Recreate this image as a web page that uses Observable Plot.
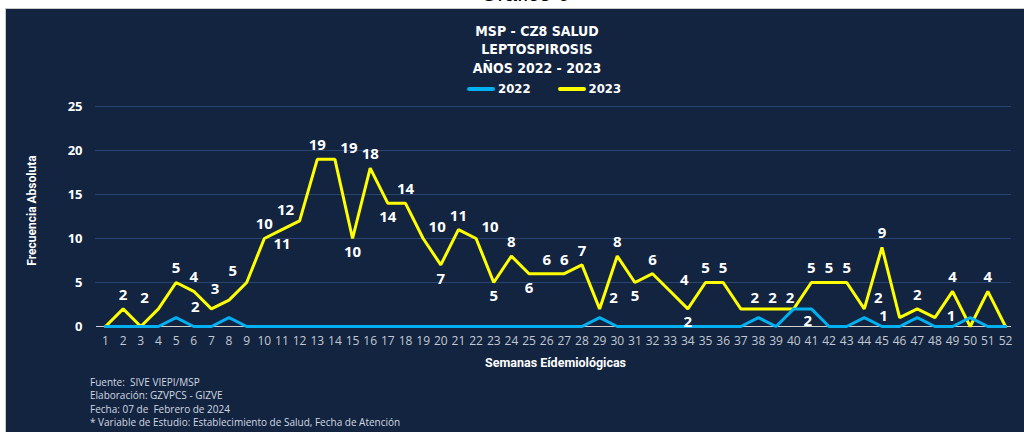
<!DOCTYPE html>
<html><head><meta charset="utf-8">
<script src="https://cdn.jsdelivr.net/npm/d3@7"></script>
<script src="https://cdn.jsdelivr.net/npm/@observablehq/plot@0.6"></script>
<style>
body{margin:0;background:#fff;width:1024px;height:432px;overflow:hidden;position:relative;font-family:"Open Sans",sans-serif}
#top{position:absolute;left:525px;top:-19px;transform:translateX(-50%);font:22px "Liberation Sans",Arial,sans-serif;color:#000;white-space:nowrap}
#panel{position:absolute;left:5px;top:8px;width:1019px;height:424px;background:#122440;border-left:1px solid #c9c9c9;border-top:1px solid #c9c9c9}
.t{position:absolute;left:537px;transform:translateX(-50%);color:#fff;font-weight:bold;font-size:14px;font-family:"Liberation Sans Narrow","DejaVu Sans Condensed","Roboto",sans-serif;white-space:nowrap}
#legend{position:absolute;top:81px;left:467px;display:flex;align-items:center;color:#fff;font-weight:bold;font-size:13px;font-family:"Liberation Sans Narrow","DejaVu Sans Condensed","Roboto",sans-serif}
.sw{display:inline-block;width:28px;height:4px;border-radius:2px;margin-right:3px}
#chart{position:absolute;left:0;top:90px}
#foot{position:absolute;left:90px;top:376px;color:#d3d8e0;font-size:10px;line-height:13.3px;font-family:"Open Sans",sans-serif}
</style>
</head><body>
<div id="top">Gráfico 6</div>
<div id="panel"></div>
<div class="t" style="top:23px">MSP - CZ8 SALUD</div>
<div class="t" style="top:41px">LEPTOSPIROSIS</div>
<div class="t" style="top:60px">AÑOS 2022 - 2023</div>
<div id="legend"><span class="sw" style="background:#00b0f0"></span><span>2022</span><span style="width:27px"></span><span class="sw" style="background:#ffff00"></span><span>2023</span></div>
<div id="chart"></div>
<div id="foot">
<div>Fuente:&nbsp; SIVE VIEPI/MSP</div>
<div>Elaboración: GZVPCS - GIZVE</div>
<div>Fecha: 07 de&nbsp; Febrero de 2024</div>
<div>* Variable de Estudio: Establecimiento de Salud, Fecha de Atención</div>
</div>
<script>
const weeks = [1,2,3,4,5,6,7,8,9,10,11,12,13,14,15,16,17,18,19,20,21,22,23,24,25,26,27,28,29,30,31,32,33,34,35,36,37,38,39,40,41,42,43,44,45,46,47,48,49,50,51,52];
const cases2022 = [0,0,0,0,1,0,0,1,0,0,0,0,0,0,0,0,0,0,0,0,0,0,0,0,0,0,0,0,1,0,0,0,0,0,0,0,0,1,0,2,2,0,0,1,0,0,1,0,0,1,0,0];
const cases2023 = [0,2,0,2,5,4,2,3,5,10,11,12,19,19,10,18,14,14,10,7,11,10,5,8,6,6,6,7,2,8,5,6,4,2,5,5,2,2,2,2,5,5,5,2,9,1,2,1,4,0,4,0];
const yTicks = [0,5,10,15,20,25];
const yLabel = "Frecuencia Absoluta";
const xLabel = "Semanas Eídemiológicas";

// layout
const W = 1024, H = 280, ML = 105, MR = 19, MT = 16, MB = 44;
const px = (W - ML - MR) / (weeks.length - 1);
const py = (H - MT - MB) / 25;
const sx = w => ML + (w - 1) * px, sy = v => MT + (25 - v) * py;
const y0 = sy(0);

const rows22 = weeks.map((w,i)=>({week:w, v:cases2022[i]}));
const rows23 = weeks.map((w,i)=>({week:w, v:cases2023[i]}));

// simple label placer: try candidate offsets, keep the first one clear of the lines and other labels
const segs = [];
for (let i = 0; i < cases2023.length - 1; i++) segs.push([sx(weeks[i]), sy(cases2023[i]), sx(weeks[i+1]), sy(cases2023[i+1])]);
for (let i = 0; i < cases2022.length - 1; i++) if (cases2022[i] > 0 || cases2022[i+1] > 0) segs.push([sx(weeks[i]), sy(cases2022[i]), sx(weeks[i+1]), sy(cases2022[i+1])]);
const rectDist = (x, y, r) => Math.hypot(Math.max(r[0] - x, 0, x - r[2]), Math.max(r[1] - y, 0, y - r[3]));
const segClear = (r) => { let m = Infinity; for (const [x1,y1,x2,y2] of segs) { if (Math.max(x1,x2) < r[0]-20 || Math.min(x1,x2) > r[2]+20) continue; for (let k = 0; k <= 16; k++) { const t = k/16; m = Math.min(m, rectDist(x1+(x2-x1)*t, y1+(y2-y1)*t, r)); } } return m; };
const overlaps = (a, b) => !(a[2] < b[0] || b[2] < a[0] || a[3] < b[1] || b[3] < a[1]);
const cands = [[0,-14],[0,14],[-14,-11],[14,-11],[16,-2],[-16,-2],[14,12],[-14,12]];
const placed = [];
const labels23 = [];
weeks.forEach((w,i)=>{
  const v = cases2023[i];
  if (v <= 0) return;
  const hw = 4.6 * String(v).length + 1, hh = 6;
  let best = null, bestScore = -Infinity;
  for (const [ox, oy] of cands) {
    const cx = sx(w) + ox;
    const cy = Math.min(sy(v) + oy, y0 - 4);
    const r = [cx - hw, cy - hh, cx + hw, cy + hh];
    let score = Math.min(segClear(r), 6);
    if (placed.some(p => overlaps(p, r))) score -= 10;
    if (score >= 2.5) { best = [cx - sx(w), cy - sy(v), r]; break; }
    if (score > bestScore) { bestScore = score; best = [cx - sx(w), cy - sy(v), r]; }
  }
  placed.push(best[2]);
  labels23.push({week:w, v, lx: w + best[0] / px, ly: v - best[1] / py});
});

const chart = Plot.plot({
  width:W, height:H,
  marginLeft:ML, marginRight:MR, marginTop:MT, marginBottom:MB,
  style:{background:"transparent", color:"#fff", fontFamily:"'Open Sans',sans-serif", overflow:"visible"},
  x:{domain:[1,52]},
  y:{domain:[0,25]},
  marks:[
    Plot.ruleY([5,10,15,20,25], {stroke:"#294572", strokeWidth:1, insetLeft:-10, insetRight:-6}),
    Plot.ruleY([0], {stroke:"#d0d0d0", strokeWidth:1, insetLeft:-9, insetRight:-6}),
    Plot.axisY({ticks:yTicks, tickSize:0, tickPadding:23, tickFormat:"d", label:null, fontWeight:"bold", fontSize:13, fill:"#fff"}),
    Plot.axisX({ticks:weeks, tickSize:0, tickPadding:10, tickFormat:"d", label:null, fontSize:12, fill:"#c3c9d3"}),
    Plot.line(rows23, {x:"week", y:"v", stroke:"#ffff00", strokeWidth:3, strokeLinejoin:"miter"}),
    Plot.line(rows22, {x:"week", y:"v", stroke:"#00b0f0", strokeWidth:3, strokeLinejoin:"miter"}),
    Plot.text(labels23, {x:"lx", y:"ly", text:d=>String(d.v), fill:"#fff", fontWeight:"bold", fontSize:15}),
    Plot.text([yLabel], {frameAnchor:"left", textAnchor:"middle", rotate:-90, dx:-73, dy:-6, fill:"#fff", fontSize:12, fontWeight:"bold", fontFamily:"Roboto,sans-serif"}),
    Plot.text([xLabel], {frameAnchor:"bottom", dy:40, fill:"#fff", fontSize:12.5, fontWeight:"bold", fontFamily:"Roboto,sans-serif"})
  ]
});
document.getElementById("chart").append(chart);
</script>
</body></html>
